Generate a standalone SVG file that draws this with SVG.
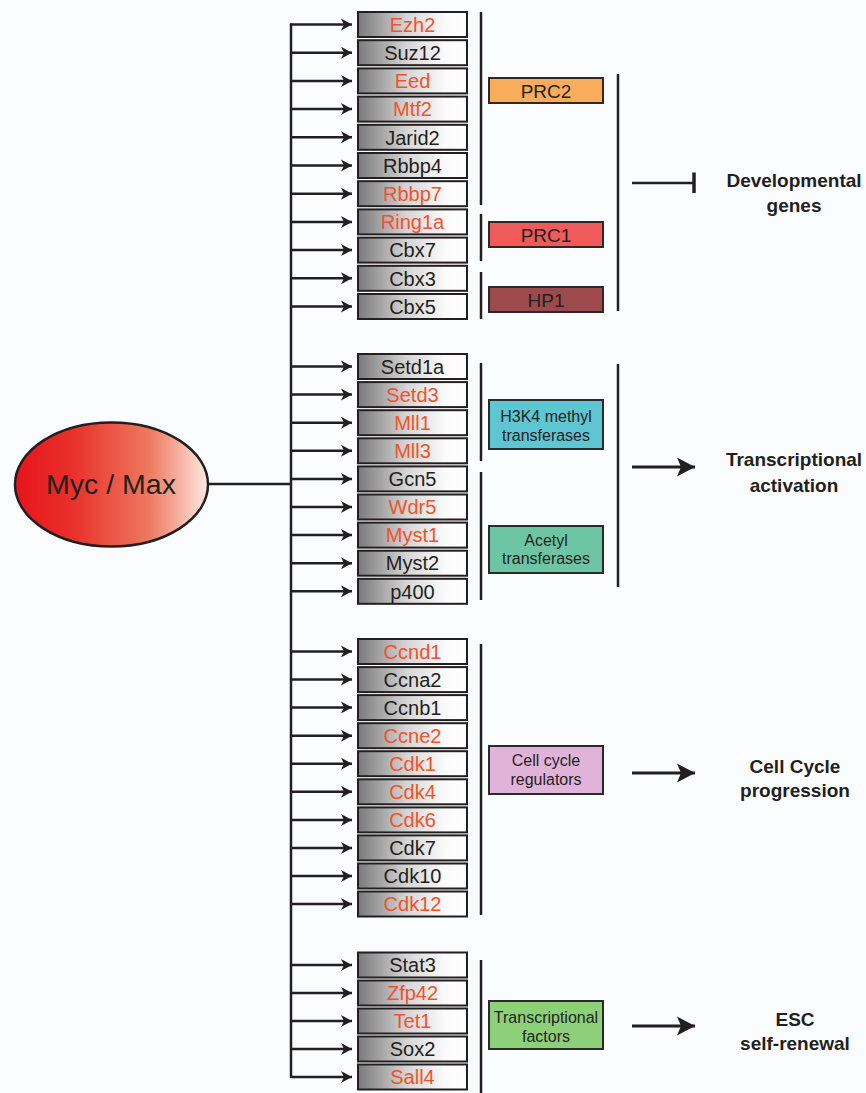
<svg xmlns="http://www.w3.org/2000/svg" width="866" height="1093" viewBox="0 0 866 1093">
<defs>
<linearGradient id="gbox" x1="0" y1="0" x2="1" y2="0">
<stop offset="0" stop-color="#7a7a7a"/>
<stop offset="0.45" stop-color="#d6d6d6"/>
<stop offset="0.8" stop-color="#fbfbfb"/>
<stop offset="1" stop-color="#ffffff"/>
</linearGradient>
<linearGradient id="gell" x1="0" y1="0" x2="1" y2="0">
<stop offset="0" stop-color="#e7141b"/>
<stop offset="0.3" stop-color="#e8312a"/>
<stop offset="0.7" stop-color="#ee7a60"/>
<stop offset="1" stop-color="#fde9e2"/>
</linearGradient>
<marker id="ah" markerUnits="userSpaceOnUse" markerWidth="12" markerHeight="14" refX="11" refY="6.5" orient="auto">
<path d="M0,0.5 L11,6.5 L0,12.5 L3,6.5 Z" fill="#231f20"/>
</marker>
<marker id="ah2" markerUnits="userSpaceOnUse" markerWidth="20" markerHeight="20" refX="18" refY="10" orient="auto">
<path d="M0,0.5 L18,10 L0,19.5 L4,10 Z" fill="#231f20"/>
</marker>
<style>
.gb{fill:url(#gbox);stroke:#231f20;stroke-width:2}
.gt{font-family:"Liberation Sans",Arial,sans-serif;font-size:20px;text-anchor:middle}
.r{fill:#f0532b}
.k{fill:#231f20}
.cb{stroke:#2a2a2a;stroke-width:2}
.ct{font-family:"Liberation Sans",Arial,sans-serif;font-size:16px;text-anchor:middle;fill:#231f20}
.ct19{font-family:"Liberation Sans",Arial,sans-serif;font-size:19px;text-anchor:middle;fill:#231f20}
.ot{font-family:"Liberation Sans",Arial,sans-serif;font-size:19px;font-weight:bold;text-anchor:middle;fill:#231f20}
.ln{stroke:#231f20;stroke-width:2.5;fill:none}
.br{stroke:#231f20;stroke-width:2.5;fill:none}
.ar{stroke:#231f20;stroke-width:2.5;fill:none;marker-end:url(#ah)}
.ar2{stroke:#231f20;stroke-width:3;fill:none;marker-end:url(#ah2)}
</style>
</defs>
<rect x="0" y="0" width="866" height="1093" fill="#fbfcfd"/>

<g id="connectors">
<line class="ln" x1="208" y1="484" x2="291" y2="484"/>
<line class="ln" x1="291" y1="23.5" x2="291" y2="1078"/>
<path class="ar" d="M290,24.5 H352"/>
<path class="ar" d="M291,52.7 H352"/>
<path class="ar" d="M291,80.9 H352"/>
<path class="ar" d="M291,109.1 H352"/>
<path class="ar" d="M291,137.3 H352"/>
<path class="ar" d="M291,165.5 H352"/>
<path class="ar" d="M291,193.7 H352"/>
<path class="ar" d="M291,221.9 H352"/>
<path class="ar" d="M291,250.1 H352"/>
<path class="ar" d="M291,278.3 H352"/>
<path class="ar" d="M291,306.5 H352"/>
<path class="ar" d="M291,366.5 H352"/>
<path class="ar" d="M291,394.6 H352"/>
<path class="ar" d="M291,422.7 H352"/>
<path class="ar" d="M291,450.8 H352"/>
<path class="ar" d="M291,478.9 H352"/>
<path class="ar" d="M291,507 H352"/>
<path class="ar" d="M291,535.1 H352"/>
<path class="ar" d="M291,563.2 H352"/>
<path class="ar" d="M291,591.3 H352"/>
<path class="ar" d="M291,651.5 H352"/>
<path class="ar" d="M291,679.6 H352"/>
<path class="ar" d="M291,707.6 H352"/>
<path class="ar" d="M291,735.7 H352"/>
<path class="ar" d="M291,763.7 H352"/>
<path class="ar" d="M291,791.8 H352"/>
<path class="ar" d="M291,819.9 H352"/>
<path class="ar" d="M291,847.9 H352"/>
<path class="ar" d="M291,876 H352"/>
<path class="ar" d="M291,904 H352"/>
<path class="ar" d="M291,965 H352"/>
<path class="ar" d="M291,993 H352"/>
<path class="ar" d="M291,1021 H352"/>
<path class="ar" d="M291,1049 H352"/>
<path class="ar" d="M290,1077 H352"/>
<!-- brackets -->
<line class="br" x1="481" y1="12" x2="481" y2="205"/>
<line class="br" x1="481" y1="214" x2="481" y2="261"/>
<line class="br" x1="481" y1="272" x2="481" y2="319"/>
<line class="br" x1="618" y1="74" x2="618" y2="311"/>
<line class="br" x1="481" y1="363" x2="481" y2="461"/>
<line class="br" x1="481" y1="472" x2="481" y2="600"/>
<line class="br" x1="618" y1="364" x2="618" y2="587"/>
<line class="br" x1="481" y1="644" x2="481" y2="915"/>
<line class="br" x1="481" y1="960" x2="481" y2="1093"/>
<!-- outcomes -->
<line class="ln" x1="632" y1="183" x2="694" y2="183"/>
<line x1="694" y1="172.5" x2="694" y2="193" stroke="#231f20" stroke-width="3.5"/>
<path class="ar2" d="M632,467 H695"/>
<path class="ar2" d="M632,773 H695"/>
<path class="ar2" d="M632,1026 H695"/>
</g>

<g id="myc-max">
<ellipse cx="111.5" cy="484.5" rx="96.5" ry="62" fill="url(#gell)" stroke="#231f20" stroke-width="2.5"/>
<text x="111" y="494" font-family="Liberation Sans, Arial, sans-serif" font-size="28.5" text-anchor="middle" fill="#231f20">Myc / Max</text>
</g>

<g id="Ezh2"><rect class="gb" x="358" y="12" width="109" height="25"/><text class="gt r" x="412.5" y="31.7">Ezh2</text></g>
<g id="Suz12"><rect class="gb" x="358" y="40.2" width="109" height="25"/><text class="gt k" x="412.5" y="59.9">Suz12</text></g>
<g id="Eed"><rect class="gb" x="358" y="68.4" width="109" height="25"/><text class="gt r" x="412.5" y="88.1">Eed</text></g>
<g id="Mtf2"><rect class="gb" x="358" y="96.6" width="109" height="25"/><text class="gt r" x="412.5" y="116.3">Mtf2</text></g>
<g id="Jarid2"><rect class="gb" x="358" y="124.8" width="109" height="25"/><text class="gt k" x="412.5" y="144.5">Jarid2</text></g>
<g id="Rbbp4"><rect class="gb" x="358" y="153" width="109" height="25"/><text class="gt k" x="412.5" y="172.7">Rbbp4</text></g>
<g id="Rbbp7"><rect class="gb" x="358" y="181.2" width="109" height="25"/><text class="gt r" x="412.5" y="200.9">Rbbp7</text></g>
<g id="Ring1a"><rect class="gb" x="358" y="209.4" width="109" height="25"/><text class="gt r" x="412.5" y="229.1">Ring1a</text></g>
<g id="Cbx7"><rect class="gb" x="358" y="237.6" width="109" height="25"/><text class="gt k" x="412.5" y="257.3">Cbx7</text></g>
<g id="Cbx3"><rect class="gb" x="358" y="265.8" width="109" height="25"/><text class="gt k" x="412.5" y="285.5">Cbx3</text></g>
<g id="Cbx5"><rect class="gb" x="358" y="294" width="109" height="25"/><text class="gt k" x="412.5" y="313.7">Cbx5</text></g>

<g id="Setd1a"><rect class="gb" x="358" y="354" width="109" height="25"/><text class="gt k" x="412.5" y="373.7">Setd1a</text></g>
<g id="Setd3"><rect class="gb" x="358" y="382.1" width="109" height="25"/><text class="gt r" x="412.5" y="401.8">Setd3</text></g>
<g id="Mll1"><rect class="gb" x="358" y="410.2" width="109" height="25"/><text class="gt r" x="412.5" y="429.9">Mll1</text></g>
<g id="Mll3"><rect class="gb" x="358" y="438.3" width="109" height="25"/><text class="gt r" x="412.5" y="458">Mll3</text></g>
<g id="Gcn5"><rect class="gb" x="358" y="466.4" width="109" height="25"/><text class="gt k" x="412.5" y="486.1">Gcn5</text></g>
<g id="Wdr5"><rect class="gb" x="358" y="494.5" width="109" height="25"/><text class="gt r" x="412.5" y="514.2">Wdr5</text></g>
<g id="Myst1"><rect class="gb" x="358" y="522.6" width="109" height="25"/><text class="gt r" x="412.5" y="542.3">Myst1</text></g>
<g id="Myst2"><rect class="gb" x="358" y="550.7" width="109" height="25"/><text class="gt k" x="412.5" y="570.4">Myst2</text></g>
<g id="p400"><rect class="gb" x="358" y="578.8" width="109" height="25"/><text class="gt k" x="412.5" y="598.5">p400</text></g>

<g id="Ccnd1"><rect class="gb" x="358" y="639" width="109" height="25"/><text class="gt r" x="412.5" y="658.7">Ccnd1</text></g>
<g id="Ccna2"><rect class="gb" x="358" y="667.1" width="109" height="25"/><text class="gt k" x="412.5" y="686.8">Ccna2</text></g>
<g id="Ccnb1"><rect class="gb" x="358" y="695.1" width="109" height="25"/><text class="gt k" x="412.5" y="714.8">Ccnb1</text></g>
<g id="Ccne2"><rect class="gb" x="358" y="723.2" width="109" height="25"/><text class="gt r" x="412.5" y="742.9">Ccne2</text></g>
<g id="Cdk1"><rect class="gb" x="358" y="751.2" width="109" height="25"/><text class="gt r" x="412.5" y="770.9">Cdk1</text></g>
<g id="Cdk4"><rect class="gb" x="358" y="779.3" width="109" height="25"/><text class="gt r" x="412.5" y="799">Cdk4</text></g>
<g id="Cdk6"><rect class="gb" x="358" y="807.4" width="109" height="25"/><text class="gt r" x="412.5" y="827.1">Cdk6</text></g>
<g id="Cdk7"><rect class="gb" x="358" y="835.4" width="109" height="25"/><text class="gt k" x="412.5" y="855.1">Cdk7</text></g>
<g id="Cdk10"><rect class="gb" x="358" y="863.5" width="109" height="25"/><text class="gt k" x="412.5" y="883.2">Cdk10</text></g>
<g id="Cdk12"><rect class="gb" x="358" y="891.5" width="109" height="25"/><text class="gt r" x="412.5" y="911.2">Cdk12</text></g>

<g id="Stat3"><rect class="gb" x="358" y="952.5" width="109" height="25"/><text class="gt k" x="412.5" y="972.2">Stat3</text></g>
<g id="Zfp42"><rect class="gb" x="358" y="980.5" width="109" height="25"/><text class="gt r" x="412.5" y="1000.2">Zfp42</text></g>
<g id="Tet1"><rect class="gb" x="358" y="1008.5" width="109" height="25"/><text class="gt r" x="412.5" y="1028.2">Tet1</text></g>
<g id="Sox2"><rect class="gb" x="358" y="1036.5" width="109" height="25"/><text class="gt k" x="412.5" y="1056.2">Sox2</text></g>
<g id="Sall4"><rect class="gb" x="358" y="1064.5" width="109" height="25"/><text class="gt r" x="412.5" y="1084.2">Sall4</text></g>

<g id="PRC2"><rect class="cb" x="489" y="78" width="114" height="25" fill="#f9ad5b"/><text class="ct19" x="546" y="97.5">PRC2</text></g>
<g id="PRC1"><rect class="cb" x="489" y="222" width="114" height="25" fill="#ef5a5a"/><text class="ct19" x="546" y="241.5">PRC1</text></g>
<g id="HP1"><rect class="cb" x="489" y="287" width="114" height="25" fill="#9e4a4c"/><text class="ct19" x="546" y="306.5">HP1</text></g>
<g id="H3K4"><rect class="cb" x="489" y="400" width="114" height="49" fill="#5ec5d3"/><text class="ct" x="546" y="422">H3K4 methyl</text><text class="ct" x="546" y="441">transferases</text></g>
<g id="Acetyl"><rect class="cb" x="489" y="526" width="114" height="47" fill="#6cc6a5"/><text class="ct" x="546" y="546">Acetyl</text><text class="ct" x="546" y="564">transferases</text></g>
<g id="CellCycleRegulators"><rect class="cb" x="489" y="746" width="114" height="48" fill="#e2b3da"/><text class="ct" x="546" y="766">Cell cycle</text><text class="ct" x="546" y="785">regulators</text></g>
<g id="TranscriptionalFactors"><rect class="cb" x="489" y="1001" width="114" height="48" fill="#8dd07a"/><text class="ct" x="546" y="1023">Transcriptional</text><text class="ct" x="546" y="1042">factors</text></g>

<g id="DevelopmentalGenes"><text class="ot" x="794" y="187">Developmental</text><text class="ot" x="794" y="212">genes</text></g>
<g id="TranscriptionalActivation"><text class="ot" x="794" y="466">Transcriptional</text><text class="ot" x="794" y="492">activation</text></g>
<g id="CellCycleProgression"><text class="ot" x="795" y="773">Cell Cycle</text><text class="ot" x="795" y="797">progression</text></g>
<g id="ESCSelfRenewal"><text class="ot" x="795" y="1026">ESC</text><text class="ot" x="795" y="1050">self-renewal</text></g>
</svg>
